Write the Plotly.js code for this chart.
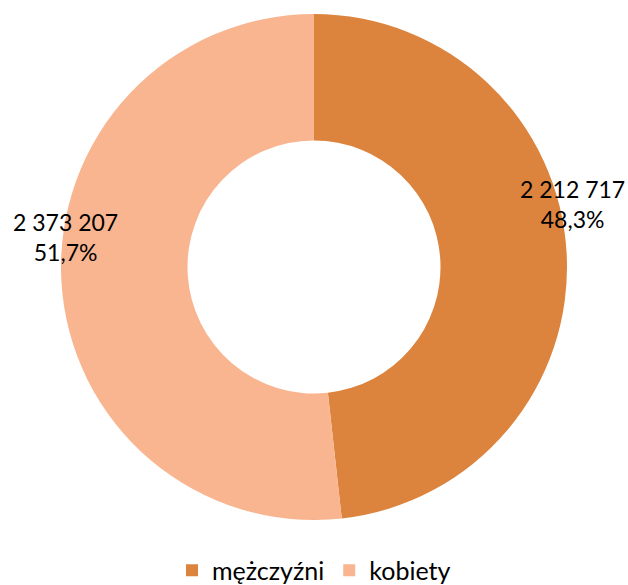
<!DOCTYPE html>
<html>
<head>
<meta charset="utf-8">
<script src="https://cdn.plot.ly/plotly-3.0.1.min.js"></script>
<style>html,body{margin:0;padding:0;background:#fff;}#chart{width:628px;height:585px;}</style>
</head>
<body>
<div id="chart"></div>
<script>
const categories = ["mężczyźni", "kobiety"];
const values = [2212717, 2373207];
const valueLabels = ["2 212 717", "2 373 207"];
const percentLabels = ["48,3%", "51,7%"];
const colors = ["#DC843D", "#F9B590"];

const FONT = "Lato, 'Open Sans', sans-serif";

const trace = {
  type: "pie",
  labels: categories,
  values: values,
  hole: 0.5,
  sort: false,
  direction: "clockwise",
  rotation: 0,
  textinfo: "none",
  hoverinfo: "label+value+percent",
  marker: { colors: colors, line: { width: 0 } },
  domain: { x: [0, 1], y: [0, 1] }
};

const labelPos = [
  { x: 1.01, y: 0.624 },
  { x: 0.008, y: 0.56 }
];

const annotations = categories.map((c, i) => ({
  xref: "paper", yref: "paper",
  x: labelPos[i].x, y: labelPos[i].y,
  xanchor: "center", yanchor: "middle",
  text: valueLabels[i] + "<br>" + percentLabels[i],
  showarrow: false,
  align: "center",
  font: { family: FONT, size: 23, color: "#000" }
}));

const layout = {
  width: 628, height: 585,
  margin: { l: 61, r: 61, t: 14, b: 65, autoexpand: false },
  paper_bgcolor: "#fff",
  plot_bgcolor: "#fff",
  showlegend: true,
  legend: {
    orientation: "h",
    x: 0.5, xanchor: "center",
    y: -0.1, yanchor: "middle",
    font: { family: FONT, size: 25, color: "#000" },
    itemwidth: 30,
    traceorder: "normal"
  },
  annotations: annotations
};

Plotly.newPlot("chart", [trace], layout, { displayModeBar: false, staticPlot: true });
</script>
</body>
</html>
